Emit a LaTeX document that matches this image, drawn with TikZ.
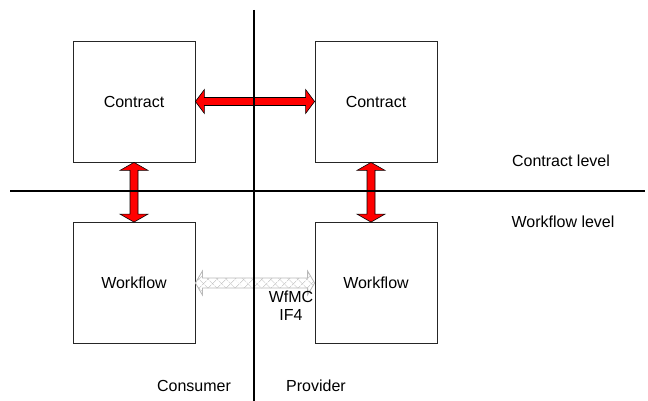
\documentclass[tikz,border=0pt]{standalone}
\usepackage{fontspec}
\setmainfont{Liberation Sans}
\usetikzlibrary{calc,patterns.meta}
\begin{document}
\begin{tikzpicture}[x=1pt,y=-1pt,
  txt/.style={font=\fontsize{16}{18}\selectfont,inner sep=0pt},
  box/.style={txt,draw=black!85,line width=0.8pt,minimum width=122pt,minimum height=121pt},
  divider/.style={line width=2.2pt},
  blockarrow/.style={fill=red,draw=black,line width=0.6pt,line join=miter},
  hatchA/.style={pattern={Lines[angle=45,distance=6.5pt,line width=0.7pt]},pattern color=black!28},
  hatchB/.style={pattern={Lines[angle=-45,distance=6.5pt,line width=0.7pt]},pattern color=black!28,draw=black!28,line width=0.8pt}
]
\useasboundingbox (0,0) rectangle (648,401);

% the four boxes
\node[box] (cl) at (134,101.5) {Contract};
\node[box] (cr) at (376,101.5) {Contract};
\node[box] (wl) at (134,283) {Workflow};
\node[box] (wr) at (376,283) {Workflow};

% ends of the two dividing lines
\coordinate (vtop) at (254,10);
\coordinate (vbot) at (254,401);
\coordinate (hlft) at (10,191);
\coordinate (hrgt) at (645,191);

% contract <-> contract
\draw[blockarrow] (cl.east) -- ++(9,-12) -- ++(0,8) -- ($(cr.west)+(-9,-4)$)
  -- ++(0,-8) -- (cr.west) -- ++(-9,12) -- ++(0,-8) -- ($(cl.east)+(9,4)$)
  -- ++(0,8) -- cycle;

% contract <-> workflow, consumer side
\draw[blockarrow] (cl.south) -- ++(-14,8) -- ++(10,0) -- ($(wl.north)+(-4,-8)$)
  -- ++(-10,0) -- (wl.north) -- ++(14,-8) -- ++(-10,0) -- ($(cl.south)+(4,8)$)
  -- ++(10,0) -- cycle;

% contract <-> workflow, provider side
\coordinate (crs) at ($(cr.south)+(-5,0)$);
\coordinate (wrn) at ($(wr.north)+(-5,0)$);
\draw[blockarrow] (crs) -- ++(-14,8) -- ++(10,0) -- ($(wrn)+(-4,-8)$)
  -- ++(-10,0) -- (wrn) -- ++(14,-8) -- ++(-10,0) -- ($(crs)+(4,8)$)
  -- ++(10,0) -- cycle;

% workflow <-> workflow (WfMC IF4), cross-hatched
\path[hatchA] (wl.east) -- ++(7,-12) -- ++(0,7) -- ($(wr.west)+(-7,-5)$)
  -- ++(0,-7) -- (wr.west) -- ++(-7,12) -- ++(0,-7) -- ($(wl.east)+(7,5)$)
  -- ++(0,7) -- cycle;
\draw[hatchB] (wl.east) -- ++(7,-12) -- ++(0,7) -- ($(wr.west)+(-7,-5)$)
  -- ++(0,-7) -- (wr.west) -- ++(-7,12) -- ++(0,-7) -- ($(wl.east)+(7,5)$)
  -- ++(0,7) -- cycle;

% dividing lines
\draw[divider] (vtop) -- (vbot);
\draw[divider] (hlft) -- (hrgt);

% labels
\node[txt] (clevel) at (561,161) {Contract level};
\node[txt] (wlevel) at (563,222) {Workflow level};
\node[txt,align=center] (wfmc) at (291,306) {WfMC\\IF4};
\node[txt] (cons) at (194,386) {Consumer};
\node[txt] (prov) at (316,386) {Provider};
\end{tikzpicture}
\end{document}
